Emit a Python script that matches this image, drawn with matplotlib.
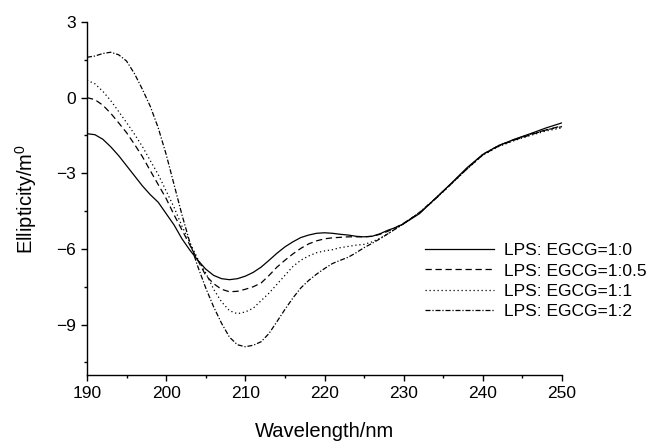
import matplotlib
matplotlib.use("Agg")
import matplotlib.pyplot as plt
from matplotlib.ticker import MultipleLocator

plt.rcParams['font.family'] = ['Liberation Sans', 'DejaVu Sans']

wavelength = list(range(190, 231)) + list(range(232, 251, 2))

ratio_1_0 = [-1.43, -1.47, -1.65, -1.95, -2.3, -2.7, -3.1, -3.5, -3.85, -4.15,
             -4.6, -5.05, -5.6, -6.05, -6.45, -6.8, -7.05, -7.18, -7.22, -7.18,
             -7.08, -6.93, -6.72, -6.45, -6.17, -5.92, -5.72, -5.55, -5.45, -5.38,
             -5.36, -5.38, -5.42, -5.45, -5.5, -5.52, -5.5, -5.4, -5.26, -5.15,
             -5.0, -4.6, -4.0, -3.4, -2.78, -2.25, -1.9, -1.65, -1.43, -1.2, -1.0]

ratio_1_05 = [0.0, -0.08, -0.3, -0.62, -1.0, -1.39, -1.85, -2.34, -2.9, -3.45,
              -4.0, -4.65, -5.25, -5.85, -6.45, -7.05, -7.38, -7.6, -7.7, -7.68,
              -7.6, -7.5, -7.35, -7.05, -6.72, -6.45, -6.2, -5.98, -5.8, -5.68,
              -5.6, -5.56, -5.54, -5.52, -5.52, -5.52, -5.5, -5.42, -5.3, -5.15,
              -4.98, -4.57, -4.02, -3.42, -2.82, -2.27, -1.92, -1.68, -1.48, -1.28, -1.12]

ratio_1_1 = [0.69, 0.55, 0.25, -0.12, -0.55, -0.99, -1.45, -1.94, -2.5, -3.05,
             -3.7, -4.35, -5.1, -5.75, -6.4, -6.95, -7.6, -8.1, -8.45, -8.57,
             -8.5, -8.35, -8.05, -7.75, -7.4, -7.05, -6.7, -6.45, -6.28, -6.15,
             -6.08, -6.03, -5.95, -5.9, -5.85, -5.82, -5.72, -5.58, -5.4, -5.2,
             -5.0, -4.57, -4.02, -3.43, -2.83, -2.28, -1.94, -1.7, -1.5, -1.32, -1.2]

ratio_1_2 = [1.6, 1.65, 1.75, 1.8, 1.7, 1.45, 0.95, 0.33, -0.35, -1.2,
             -2.25, -3.45, -4.65, -5.75, -6.7, -7.55, -8.3, -8.95, -9.5, -9.8,
             -9.88, -9.82, -9.68, -9.35, -8.88, -8.4, -7.95, -7.55, -7.25, -7.0,
             -6.78, -6.58, -6.45, -6.33, -6.15, -5.95, -5.78, -5.6, -5.4, -5.2,
             -5.0, -4.55, -4.0, -3.42, -2.82, -2.25, -1.9, -1.66, -1.45, -1.28, -1.15]

labels = ["LPS: EGCG=1:0", "LPS: EGCG=1:0.5", "LPS: EGCG=1:1", "LPS: EGCG=1:2"]

fig = plt.figure(figsize=(6.52, 4.44), dpi=100)
ax = fig.add_axes([0.1334, 0.1554, 0.862 - 0.1334, 0.9505 - 0.1554])

lw = 0.9
ax.plot(wavelength, ratio_1_0, color='black', lw=lw, ls='-', label=labels[0])
ax.plot(wavelength, ratio_1_05, color='black', lw=lw, ls=(0, (5, 3)), label=labels[1])
ax.plot(wavelength, ratio_1_1, color='black', lw=lw, ls=(0, (1, 2.2)), label=labels[2])
ax.plot(wavelength, ratio_1_2, color='black', lw=lw, ls=(0, (4, 1.5, 1, 1.5)), label=labels[3])

ax.set_xlim(190, 250)
ax.set_ylim(-11, 3)
ax.xaxis.set_major_locator(MultipleLocator(10))
ax.xaxis.set_minor_locator(MultipleLocator(5))
ax.yaxis.set_major_locator(MultipleLocator(3))
ax.yaxis.set_minor_locator(MultipleLocator(1.5))

for s in ['top', 'right']:
    ax.spines[s].set_visible(False)
for s in ['left', 'bottom']:
    ax.spines[s].set_linewidth(1.0)

ax.tick_params(which='major', direction='out', length=4, width=1.0, labelsize=12.5, pad=4)
ax.tick_params(which='minor', direction='out', length=2.5, width=1.0)

ax.set_xlabel("Wavelength/nm", fontsize=14.5, labelpad=15)
ax.set_ylabel(r"Ellipticity/m$^\mathregular{0}$", fontsize=14.5, labelpad=12)

leg = ax.legend(loc='upper left', bbox_to_anchor=(425 / 652, 1 - 243 / 444),
                bbox_transform=fig.transFigure, frameon=False, fontsize=12.5,
                handlelength=4.0, handletextpad=0.55, labelspacing=0.3,
                borderpad=0, borderaxespad=0)

fig.savefig("out.png", dpi=100)
